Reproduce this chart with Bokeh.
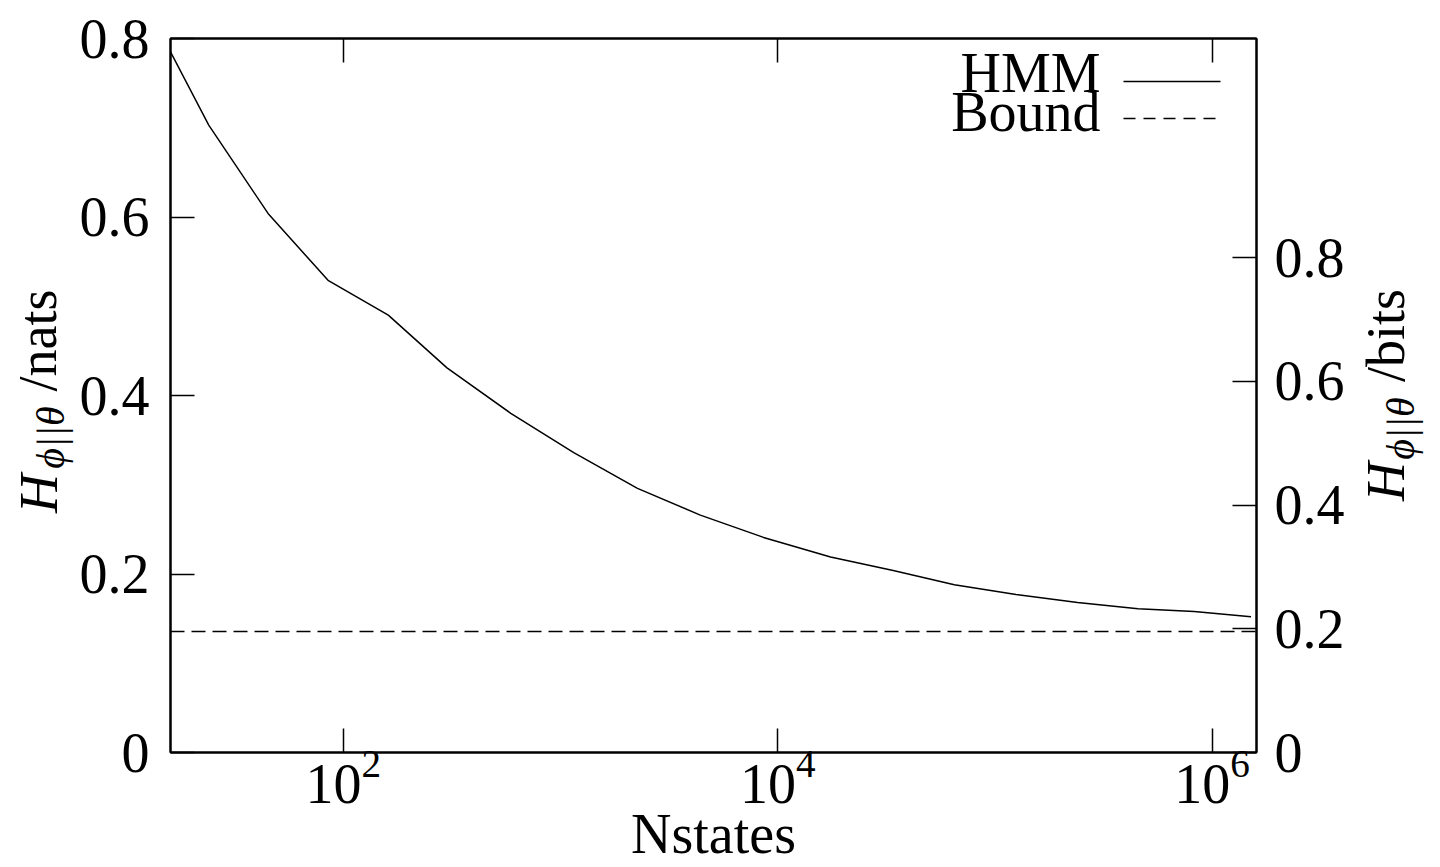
import math
from bokeh.plotting import figure
from bokeh.models import (Range1d, LinearAxis, LogAxis, FixedTicker, LogTickFormatter,
                          Span, Label, Arrow)
from bokeh.embed import file_html
from bokeh.resources import INLINE

# ---- data ----
nstates = [16, 24, 45, 85, 161, 300, 590, 1150, 2260, 4400, 8600, 17500,
           34000, 65000, 125000, 240000, 456000, 826000, 1510000]
h_nats = [0.785, 0.703, 0.604, 0.529, 0.490, 0.431, 0.380, 0.336, 0.296, 0.266,
          0.241, 0.219, 0.204, 0.188, 0.177, 0.168, 0.161, 0.158, 0.152]
bound_nats = 0.1356

x_ticks = [1e2, 1e4, 1e6]
y_ticks = [0, 0.2, 0.4, 0.6, 0.8]
y_tick_labels = ["0", "0.2", "0.4", "0.6", "0.8"]
bits_ticks = [0, 0.2, 0.4, 0.6, 0.8]
bits_tick_labels = ["0", "0.2", "0.4", "0.6", "0.8"]
series_names = ["HMM", "Bound"]
x_title = "Nstates"
y_title_main, y_title_sub = "H", "ϕ||θ"
y_title_units = ["/nats", "/bits"]

X0, X1 = 16, 1.6e6
Y0, Y1 = 0.0, 0.8
FONT = "Liberation Serif"
FS = "56px"
TFS = "54px"
SUB = "40px"

# layout geometry (pixels)
W, H = 1440, 866
FL, FR, FT, FB = 170, 1256, 38, 752


def px_to_x(px):
    a, b = math.log10(X0), math.log10(X1)
    return 10 ** (a + (px - FL) / (FR - FL) * (b - a))


def py_to_y(py):
    return round(Y0 + (FB - py) / (FB - FT) * (Y1 - Y0), 4)


p = figure(width=W, height=H, x_axis_type="log",
           x_range=Range1d(X0, X1), y_range=Range1d(Y0, Y1),
           output_backend="svg", toolbar_location=None,
           min_border_left=FL, min_border_right=W - FR,
           min_border_top=FT, min_border_bottom=H - FB)
p.grid.visible = False
p.outline_line_color = "black"
p.outline_line_width = 2
p.background_fill_color = "white"
p.border_fill_color = "white"

p.extra_y_ranges = {"bits": Range1d(0, Y1 / math.log(2))}

p.line(nstates, h_nats, line_color="black", line_width=1.5)
p.add_layout(Span(location=bound_nats, dimension="width", line_color="black",
                  line_dash="14 7", line_width=1.5))


def style(ax):
    ax.axis_line_width = 2
    ax.axis_line_color = "black"
    ax.major_tick_in = 24
    ax.major_tick_out = 0
    ax.major_tick_line_width = 1.5
    ax.major_tick_line_color = "black"
    ax.minor_tick_line_color = None
    ax.major_label_text_font = FONT
    ax.major_label_text_font_size = FS
    ax.major_label_text_color = "black"


xa = p.xaxis[0]
xa.ticker = FixedTicker(ticks=x_ticks)
xa.formatter = LogTickFormatter()
style(xa)
xa.major_label_standoff = -2

top = LogAxis(ticker=FixedTicker(ticks=x_ticks))
style(top)
top.major_label_text_font_size = "1px"
top.major_label_text_color = None
top.major_label_standoff = 0
p.add_layout(top, "above")

ya = p.yaxis[0]
ya.ticker = FixedTicker(ticks=y_ticks)
ya.major_label_overrides = {t: s for t, s in zip(y_ticks, y_tick_labels)}
style(ya)
ya.major_label_standoff = 21

ra = LinearAxis(y_range_name="bits", ticker=FixedTicker(ticks=bits_ticks))
ra.major_label_overrides = {t: s for t, s in zip(bits_ticks, bits_tick_labels)}
style(ra)
ra.major_label_standoff = 18
p.add_layout(ra, "right")


# ---- titles: labels of extra (line-less, tick-less) axes in the side panels ----
def text_axis(side, standoff, tick, text, size=TFS, font_style="normal", orient="vertical"):
    ax = LinearAxis(ticker=FixedTicker(ticks=[tick]))
    ax.major_label_overrides = {tick: text}
    ax.axis_line_color = None
    ax.major_tick_line_color = None
    ax.minor_tick_line_color = None
    ax.major_tick_in = 0
    ax.major_tick_out = 0
    ax.major_label_standoff = standoff
    ax.major_label_orientation = orient
    ax.major_label_text_font = FONT
    ax.major_label_text_font_size = size
    ax.major_label_text_font_style = font_style
    ax.major_label_text_color = "black"
    p.add_layout(ax, side)


# left title (reads upward, each piece centred on its tick)
text_axis("left", 3, py_to_y(437), y_title_sub, size=SUB, font_style="italic")
text_axis("left", -44, py_to_y(493), y_title_main, font_style="italic")
text_axis("left", -62, py_to_y(340), y_title_units[0])
# right title: same mechanism, pushed across the canvas by a negative standoff
text_axis("left", -1411, py_to_y(481), y_title_main, font_style="italic")
text_axis("left", -1418, py_to_y(428), y_title_sub, size=SUB, font_style="italic")
text_axis("left", -1411, py_to_y(335), y_title_units[1])
# x title
text_axis("above", -826, round(px_to_x((FL + FR) / 2)), x_title, size=FS, orient="horizontal")


# ---- legend (text left of sample, like the reference) ----
def lab(x, y, text, align="right"):
    p.add_layout(Label(x=x, y=y, x_units="screen", y_units="screen", text=text,
                       text_font=FONT, text_font_size=FS,
                       text_align=align, text_baseline="alphabetic", text_color="black"))


lab(930, 680, series_names[0])
lab(930, 641, series_names[1])
p.add_layout(Arrow(x_start=953, y_start=671, x_end=1050, y_end=671,
                   start_units="screen", end_units="screen", end=None,
                   line_color="black", line_width=1.5))
p.add_layout(Arrow(x_start=953, y_start=634, x_end=1050, y_end=634,
                   start_units="screen", end_units="screen", end=None,
                   line_color="black", line_width=1.5, line_dash="12 8"))

open("out.html", "w").write(file_html(p, INLINE))
